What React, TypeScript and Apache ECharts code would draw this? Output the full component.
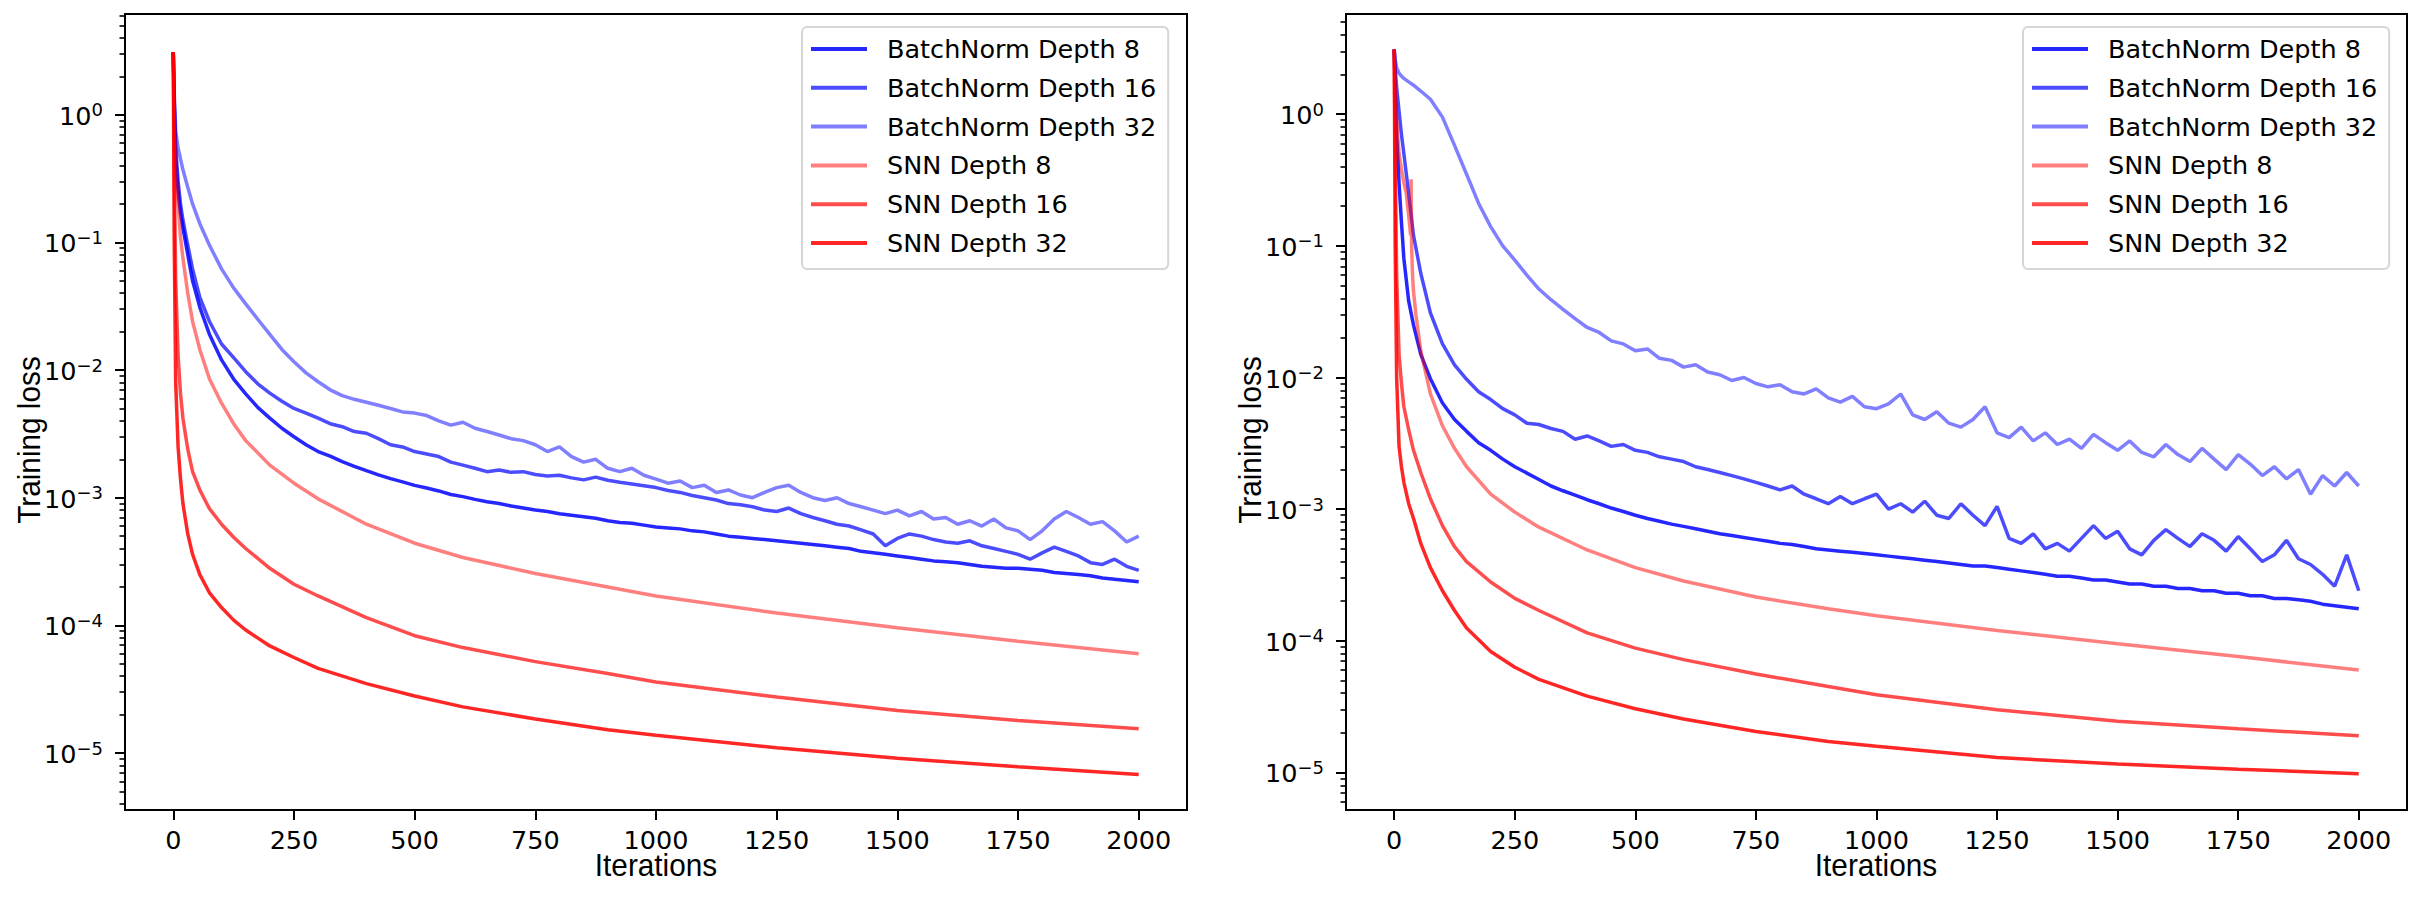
import React, { useEffect, useRef } from 'react';
import * as echarts from 'echarts';

// ---------- ticks / labels ----------
const X_TICKS = [0, 250, 500, 750, 1000, 1250, 1500, 1750, 2000];
const Y_TICKS = [1e-5, 1e-4, 1e-3, 1e-2, 1e-1, 1];
const X_LABEL = 'Iterations';
const Y_LABEL = 'Training loss';

const SERIES_NAMES = [
  'BatchNorm Depth 8',
  'BatchNorm Depth 16',
  'BatchNorm Depth 32',
  'SNN Depth 8',
  'SNN Depth 16',
  'SNN Depth 32',
];
const SERIES_COLORS = [
  'rgba(0,0,255,0.85)',
  'rgba(0,0,255,0.7)',
  'rgba(0,0,255,0.5)',
  'rgba(255,0,0,0.5)',
  'rgba(255,0,0,0.7)',
  'rgba(255,0,0,0.85)',
];

// ---------- iteration grids ----------
const ITER_SMOOTH = [0, 2, 5, 10, 15, 20, 30, 40, 55, 75, 100, 125, 150, 200, 250, 300, 400, 500, 600, 750, 900, 1000, 1250, 1500, 1750, 2000];
const ITER_NOISY = [
  0, 2, 5, 10, 15, 20, 30, 40, 55, 75, 100, 125, 150, 175, 200,
  225, 250, 275, 300, 325, 350, 375, 400, 425, 450, 475, 500,
  525, 550, 575, 600, 625, 650, 675, 700, 725, 750, 775, 800,
  825, 850, 875, 900, 925, 950, 975, 1000, 1025, 1050, 1075, 1100,
  1125, 1150, 1175, 1200, 1225, 1250, 1275, 1300, 1325, 1350, 1375, 1400,
  1425, 1450, 1475, 1500, 1525, 1550, 1575, 1600, 1625, 1650, 1675, 1700,
  1725, 1750, 1775, 1800, 1825, 1850, 1875, 1900, 1925, 1950, 1975, 2000,
];
const ITER_SPIKE = [0, 2, 5, 10, 15, 20, 25, 30, 34, 35, 36, 38, 40, 45, 55, 75, 100, 125, 150, 200, 250, 300, 400, 500, 600, 750, 900, 1000, 1250, 1500, 1750, 2000];

// ---------- left panel values ----------
const L_BN8 = [
  3.1, 1.2, 0.45, 0.25, 0.17, 0.13, 0.08, 0.05, 0.031, 0.019, 0.012, 0.0085, 0.0065, 0.0051, 0.0042,
  0.0035, 0.003, 0.0026, 0.0023,
  0.00212, 0.00192, 0.00176, 0.00163,
  0.00151, 0.00141, 0.00133, 0.00125,
  0.00119, 0.00113, 0.00106, 0.00102,
  0.00097, 0.00093, 0.0009, 0.00086,
  0.00083, 0.0008, 0.00078, 0.00075,
  0.00073, 0.00071, 0.00069, 0.00066,
  0.00064, 0.00063, 0.00061, 0.00059,
  0.00058, 0.00057, 0.00055, 0.00054,
  0.00052, 0.0005, 0.00049, 0.00048,
  0.00047, 0.00046, 0.00045, 0.00044,
  0.00043, 0.00042, 0.00041, 0.0004,
  0.00038, 0.00037, 0.00036, 0.00035,
  0.00034, 0.00033, 0.00032, 0.000315,
  0.00031, 0.0003, 0.00029, 0.000285,
  0.00028, 0.00028, 0.000275, 0.00027,
  0.00026, 0.000255, 0.00025, 0.000245,
  0.000235, 0.00023, 0.000225, 0.00022,
];
const L_BN16 = [
  3.1, 1.3, 0.55, 0.3, 0.2, 0.15, 0.095, 0.062, 0.037, 0.024, 0.016, 0.0125, 0.0097, 0.0078, 0.0066,
  0.0057, 0.005, 0.0046, 0.0042,
  0.0038, 0.0036, 0.0033, 0.0032,
  0.0029, 0.0026, 0.0025, 0.0023,
  0.0022, 0.0021, 0.0019, 0.0018,
  0.0017, 0.0016, 0.00165, 0.00158,
  0.0016, 0.00152, 0.00148, 0.0015,
  0.00143, 0.00138, 0.00145, 0.00137,
  0.00132, 0.00128, 0.00124, 0.0012,
  0.00114, 0.0011, 0.00104, 0.001,
  0.00096, 0.0009, 0.00088, 0.00085,
  0.0008, 0.00078, 0.00083, 0.00075,
  0.0007, 0.00066, 0.00062, 0.0006,
  0.00056, 0.00052, 0.00042, 0.00048,
  0.00052, 0.0005, 0.00047, 0.00045,
  0.00044, 0.00046, 0.00042, 0.0004,
  0.00038, 0.00036, 0.00033, 0.00037,
  0.00041, 0.00038, 0.00035, 0.00031,
  0.0003, 0.00033, 0.00029, 0.00027,
];
const L_BN32 = [
  3.1, 1.5, 0.75, 0.55, 0.45, 0.37, 0.27, 0.2, 0.14, 0.095, 0.062, 0.044, 0.033, 0.025, 0.019,
  0.0145, 0.0116, 0.0095, 0.0081,
  0.007, 0.0063, 0.0059, 0.0056,
  0.0053, 0.005, 0.0047, 0.0046,
  0.0044, 0.004, 0.0037, 0.0039,
  0.0035, 0.0033, 0.0031, 0.0029,
  0.0028, 0.0026, 0.0023, 0.0025,
  0.0021, 0.0019, 0.002, 0.0017,
  0.0016, 0.0017, 0.0015, 0.0014,
  0.0013, 0.00135, 0.0012, 0.00125,
  0.0011, 0.00115, 0.00105, 0.001,
  0.0011, 0.0012, 0.00125, 0.0011,
  0.001, 0.00095, 0.001, 0.0009,
  0.00085, 0.0008, 0.00075, 0.0008,
  0.00072, 0.00078, 0.00068, 0.0007,
  0.00062, 0.00066, 0.0006, 0.00068,
  0.00058, 0.00055, 0.00047, 0.00055,
  0.00068, 0.00078, 0.0007, 0.00062,
  0.00065, 0.00055, 0.00045, 0.0005,
];
const L_SNN8 = [3.1, 1.0, 0.4, 0.2, 0.11, 0.075, 0.04, 0.024, 0.0145, 0.0085, 0.0055, 0.0038, 0.0028, 0.0018, 0.0013, 0.00098, 0.00062, 0.00044, 0.00034, 0.000255, 0.0002, 0.00017, 0.000125, 0.000096, 0.000075, 0.00006];
const L_SNN16 = [3.1, 0.4, 0.05, 0.013, 0.0065, 0.0042, 0.0024, 0.0016, 0.00115, 0.00082, 0.00062, 0.00049, 0.0004, 0.00028, 0.00021, 0.00017, 0.000115, 0.000083, 0.000067, 0.000052, 0.000042, 0.000036, 0.0000275, 0.0000215, 0.000018, 0.0000155];
const L_SNN32 = [3.1, 0.1, 0.008, 0.0025, 0.0014, 0.0009, 0.00052, 0.00036, 0.00025, 0.00018, 0.000138, 0.00011, 0.000092, 0.000069, 0.000056, 0.000046, 0.000035, 0.000028, 0.000023, 0.0000185, 0.0000152, 0.0000138, 0.000011, 0.0000091, 0.0000078, 0.0000068];

// ---------- right panel values ----------
const R_BN8 = [
  3.1, 1.5, 0.7, 0.3, 0.15, 0.08, 0.038, 0.025, 0.015, 0.0098, 0.0064, 0.0048, 0.0039, 0.0032, 0.0028,
  0.0024, 0.0021, 0.00188, 0.00168,
  0.0015, 0.00138, 0.00128, 0.00118,
  0.0011, 0.00102, 0.00096, 0.0009,
  0.00085, 0.00081, 0.00077, 0.00074,
  0.00071, 0.00068, 0.00065, 0.00063,
  0.00061, 0.00059, 0.00057, 0.00055,
  0.00054, 0.00052, 0.0005, 0.00049,
  0.00048, 0.00047, 0.00046, 0.00045,
  0.00044, 0.00043, 0.00042, 0.00041,
  0.0004, 0.00039, 0.00038, 0.00037,
  0.00037, 0.00036, 0.00035, 0.00034,
  0.00033, 0.00032, 0.00031, 0.00031,
  0.0003, 0.00029, 0.00029, 0.00028,
  0.00027, 0.00027, 0.00026, 0.00026,
  0.00025, 0.00025, 0.00024, 0.00024,
  0.00023, 0.00023, 0.00022, 0.00022,
  0.00021, 0.00021, 0.000205, 0.0002,
  0.00019, 0.000185, 0.00018, 0.000175,
];
const R_BN16 = [
  3.1, 2.2, 1.6, 1.05, 0.7, 0.5, 0.25, 0.12, 0.062, 0.031, 0.018, 0.0125, 0.0097, 0.0078, 0.0068,
  0.0058, 0.0052, 0.0045, 0.0044,
  0.0041, 0.0039, 0.0034, 0.0036,
  0.0033, 0.003, 0.0031, 0.0028,
  0.0027, 0.0025, 0.0024, 0.0023,
  0.0021, 0.002, 0.0019, 0.0018,
  0.0017, 0.0016, 0.0015, 0.0014,
  0.0015, 0.0013, 0.0012, 0.0011,
  0.00125, 0.0011, 0.0012, 0.0013,
  0.001, 0.0011, 0.00095, 0.00115,
  0.0009, 0.00085, 0.0011, 0.0009,
  0.00075, 0.00105, 0.0006, 0.00055,
  0.00065, 0.0005, 0.00055, 0.00048,
  0.0006, 0.00075, 0.0006, 0.00068,
  0.0005, 0.00045, 0.00058, 0.0007,
  0.0006, 0.00052, 0.00065, 0.00058,
  0.00048, 0.00062, 0.0005, 0.0004,
  0.00045, 0.00058, 0.00042, 0.00038,
  0.00032, 0.00026, 0.00045, 0.00024,
];
const R_BN32 = [
  3.1, 2.6, 2.25, 2.05, 1.95, 1.87, 1.76, 1.66, 1.5, 1.3, 0.95, 0.58, 0.35, 0.21, 0.14,
  0.1, 0.078, 0.06, 0.047,
  0.039, 0.033, 0.028, 0.024,
  0.022, 0.019, 0.018, 0.016,
  0.0165, 0.014, 0.0135, 0.012,
  0.0125, 0.011, 0.0105, 0.0095,
  0.01, 0.009, 0.0085, 0.0088,
  0.0078, 0.0075, 0.0082, 0.007,
  0.0065, 0.0072, 0.006, 0.0058,
  0.0063, 0.0075, 0.0052, 0.0048,
  0.0055, 0.0045, 0.0042, 0.0048,
  0.006, 0.0038, 0.0035, 0.0042,
  0.0033, 0.0038, 0.0031, 0.0034,
  0.0029, 0.0037, 0.0032, 0.0028,
  0.0033, 0.0027, 0.0025, 0.0031,
  0.0026, 0.0023, 0.0029, 0.0024,
  0.002, 0.0026, 0.0022, 0.0018,
  0.0021, 0.0017, 0.002, 0.0013,
  0.0018, 0.0015, 0.0019, 0.0015,
];
const R_SNN8 = [3.1, 1.6, 0.9, 0.5, 0.38, 0.3, 0.25, 0.17, 0.12, 0.32, 0.1, 0.06, 0.045, 0.03, 0.016, 0.0075, 0.0043, 0.0029, 0.0021, 0.0013, 0.00095, 0.00073, 0.00049, 0.00036, 0.000285, 0.000215, 0.000175, 0.000155, 0.00012, 0.000095, 0.000076, 0.00006];
const R_SNN16 = [3.1, 0.5, 0.06, 0.015, 0.009, 0.006, 0.004, 0.0028, 0.0019, 0.0012, 0.00075, 0.00052, 0.0004, 0.00028, 0.00021, 0.00017, 0.000115, 0.000088, 0.000072, 0.000056, 0.000045, 0.000039, 0.00003, 0.0000245, 0.0000215, 0.000019];
const R_SNN32 = [3.1, 0.1, 0.01, 0.003, 0.0021, 0.0016, 0.0011, 0.00085, 0.00055, 0.00036, 0.00024, 0.00017, 0.000125, 0.000083, 0.000063, 0.000051, 0.000038, 0.0000305, 0.0000255, 0.0000205, 0.0000172, 0.0000158, 0.000013, 0.0000116, 0.0000106, 0.0000098];

const LEFT_Y_RANGE = [3.58e-6, 6.15];
const RIGHT_Y_RANGE = [5.19e-6, 5.77];
const X_RANGE = [-100, 2100];

const pairs = (xs: number[], ys: number[]) => {
  const n = Math.min(xs.length, ys.length);
  const out: number[][] = [];
  for (let i = 0; i < n; i++) out.push([xs[i], ys[i]]);
  return out;
};

const minorTicks = (lo: number, hi: number) => {
  const out: number[] = [];
  for (let d = -7; d <= 1; d++) {
    for (let m = 2; m <= 9; m++) {
      const v = m * Math.pow(10, d);
      if (v >= lo && v <= hi) out.push(v);
    }
  }
  return out;
};

const FONT = 'DejaVu Sans';
const TICK_FS = 25.5;

const supFormatter = (v: number) => {
  const e = Math.round(Math.log10(v));
  const s = e < 0 ? '\u2212' + String(-e) : String(e);
  return '{b|10}{s|' + s + '}';
};

function makeXAxis(gridIndex: number) {
  return {
    type: 'value',
    gridIndex,
    min: X_RANGE[0],
    max: X_RANGE[1],
    position: 'bottom',
    splitLine: { show: false },
    axisLine: { show: true, onZero: false, lineStyle: { color: '#000', width: 2 } },
    axisTick: { show: true, customValues: X_TICKS, length: 10, lineStyle: { color: '#000', width: 2 } },
    axisLabel: {
      show: true,
      customValues: X_TICKS,
      formatter: (v: number) => String(v),
      fontSize: TICK_FS,
      fontFamily: FONT,
      color: '#000',
      margin: 17,
    },
  };
}

function makeYAxes(gridIndex: number, range: number[]) {
  return [
    {
      type: 'log',
      logBase: 10,
      gridIndex,
      position: 'left',
      min: range[0],
      max: range[1],
      splitLine: { show: false },
      axisLine: { show: true, onZero: false, lineStyle: { color: '#000', width: 2 } },
      axisTick: { show: true, customValues: Y_TICKS, length: 10, lineStyle: { color: '#000', width: 2 } },
      axisLabel: {
        show: true,
        customValues: Y_TICKS,
        formatter: supFormatter,
        margin: 22,
        rich: {
          b: { fontSize: TICK_FS, fontFamily: FONT, color: '#000', lineHeight: 28, verticalAlign: 'bottom' },
          s: { fontSize: 18, fontFamily: FONT, color: '#000', lineHeight: 18, verticalAlign: 'top' },
        },
      },
    },
    {
      type: 'log',
      logBase: 10,
      gridIndex,
      position: 'left',
      offset: 0,
      min: range[0],
      max: range[1],
      splitLine: { show: false },
      axisLine: { show: false, onZero: false },
      axisLabel: { show: false },
      axisTick: {
        show: true,
        customValues: minorTicks(range[0], range[1]),
        length: 5.5,
        lineStyle: { color: '#000', width: 1.6 },
      },
    },
  ];
}

function lineSeries(name: string, color: string, xIdx: number, yIdx: number, data: number[][]) {
  return {
    type: 'line',
    name,
    xAxisIndex: xIdx,
    yAxisIndex: yIdx,
    data,
    showSymbol: false,
    symbol: 'none',
    color,
    lineStyle: { color, width: 3.5 },
    emphasis: { disabled: true },
    z: 3,
  };
}

function makeLegend(left: number) {
  return {
    show: true,
    orient: 'vertical',
    left,
    top: 27,
    data: SERIES_NAMES,
    icon: 'rect',
    itemWidth: 56,
    itemHeight: 4,
    itemGap: 12.8,
    padding: [9, 12, 13, 9],
    borderColor: '#d6d6d6',
    borderWidth: 2,
    borderRadius: 5,
    backgroundColor: 'rgba(255,255,255,0.8)',
    selectedMode: false,
    textStyle: { fontSize: TICK_FS, fontFamily: FONT, color: '#000', padding: [0, 0, 0, 15] },
  };
}

export default function App() {
  const ref = useRef<HTMLDivElement>(null);
  useEffect(() => {
    document.body.style.margin = '0';
    if (!ref.current) return;
    const chart = echarts.init(ref.current, undefined, { renderer: 'svg' });

    const leftData = [
      pairs(ITER_NOISY, L_BN8),
      pairs(ITER_NOISY, L_BN16),
      pairs(ITER_NOISY, L_BN32),
      pairs(ITER_SMOOTH, L_SNN8),
      pairs(ITER_SMOOTH, L_SNN16),
      pairs(ITER_SMOOTH, L_SNN32),
    ];
    const rightData = [
      pairs(ITER_NOISY, R_BN8),
      pairs(ITER_NOISY, R_BN16),
      pairs(ITER_NOISY, R_BN32),
      pairs(ITER_SPIKE, R_SNN8),
      pairs(ITER_SMOOTH, R_SNN16),
      pairs(ITER_SMOOTH, R_SNN32),
    ];

    const series: any[] = [];
    SERIES_NAMES.forEach((n, i) => series.push(lineSeries(n, SERIES_COLORS[i], 0, 0, leftData[i])));
    SERIES_NAMES.forEach((n, i) => series.push(lineSeries(n, SERIES_COLORS[i], 1, 2, rightData[i])));

    const nameStyle = {
      fontSize: 32,
      fontFamily: 'Liberation Sans',
      fill: '#000',
    };

    const option: any = {
      animation: false,
      backgroundColor: '#fff',
      grid: [
        { left: 125, top: 14, width: 1062, height: 796, show: true, borderColor: '#000', borderWidth: 2, backgroundColor: 'transparent' },
        { left: 1346, top: 14, width: 1061, height: 796, show: true, borderColor: '#000', borderWidth: 2, backgroundColor: 'transparent' },
      ],
      xAxis: [makeXAxis(0), makeXAxis(1)],
      yAxis: [...makeYAxes(0, LEFT_Y_RANGE), ...makeYAxes(1, RIGHT_Y_RANGE)],
      legend: [makeLegend(802), makeLegend(2023)],
      series,
      graphic: [
        { type: 'text', x: 656, y: 865.5, scaleX: 0.93, style: { ...nameStyle, text: X_LABEL, textAlign: 'center', textVerticalAlign: 'middle' } },
        { type: 'text', x: 1876, y: 865.5, scaleX: 0.93, style: { ...nameStyle, text: X_LABEL, textAlign: 'center', textVerticalAlign: 'middle' } },
        { type: 'text', x: 29.5, y: 440, rotation: Math.PI / 2, scaleX: 0.93, style: { ...nameStyle, text: Y_LABEL, textAlign: 'center', textVerticalAlign: 'middle' } },
        { type: 'text', x: 1250, y: 440, rotation: Math.PI / 2, scaleX: 0.93, style: { ...nameStyle, text: Y_LABEL, textAlign: 'center', textVerticalAlign: 'middle' } },
      ],
    };
    chart.setOption(option);
    return () => chart.dispose();
  }, []);
  return <div ref={ref} style={{ width: 2418, height: 898 }} />;
}
